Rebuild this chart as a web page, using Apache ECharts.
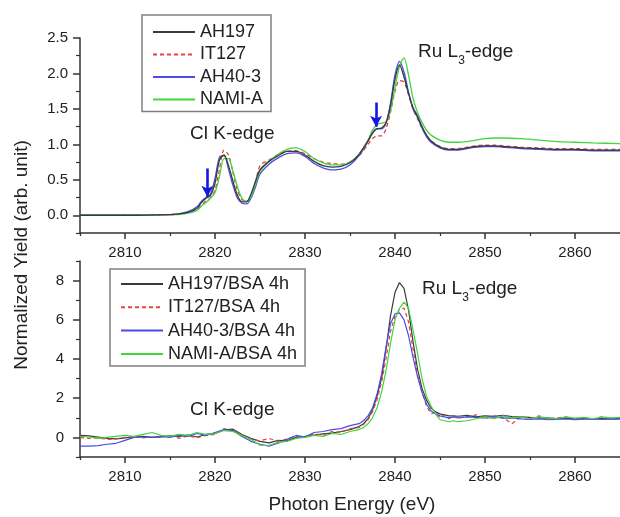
<!DOCTYPE html>
<html><head><meta charset="utf-8">
<script src="https://cdn.jsdelivr.net/npm/echarts@6/dist/echarts.min.js"></script>
<style>html,body{margin:0;padding:0;background:#fff}#c{width:620px;height:517px}</style>
</head><body><div id="c"></div>
<script>
// ---------- Top panel (pure complexes) ----------
const energyTop = [2805,2810,2815,2816,2817,2818,2818.5,2819,2819.5,2820,
  2820.5,2821,2821.5,2822,2822.5,2823,2823.5,2824,2824.5,2825,
  2826,2827,2828,2829,2830,2831,2832,2833,2834,2835,
  2836,2837,2837.5,2838,2838.5,2839,2839.5,2840,2840.5,2841,
  2841.5,2842,2842.5,2843,2843.5,2844,2845,2846,2847,2848,
  2849,2850,2851,2852,2854,2856,2858,2860,2862,2865];
const topAH197 = [0.00,0.00,0.01,0.02,0.04,0.10,0.18,0.24,0.28,0.45,
  0.78,0.85,0.70,0.48,0.28,0.19,0.19,0.30,0.48,0.64,
  0.76,0.84,0.90,0.90,0.85,0.76,0.70,0.68,0.69,0.74,
  0.86,1.05,1.16,1.22,1.23,1.30,1.55,1.92,2.12,1.95,
  1.72,1.52,1.40,1.25,1.13,1.05,0.96,0.93,0.93,0.95,
  0.97,0.98,0.98,0.97,0.95,0.94,0.93,0.93,0.92,0.92];
const topIT127 = [0.00,0.00,0.01,0.02,0.04,0.08,0.14,0.20,0.25,0.35,
  0.65,0.92,0.85,0.60,0.35,0.22,0.19,0.26,0.45,0.70,
  0.78,0.85,0.90,0.91,0.87,0.80,0.75,0.73,0.72,0.75,
  0.84,1.00,1.08,1.12,1.12,1.22,1.45,1.75,1.90,1.88,
  1.70,1.50,1.36,1.23,1.12,1.05,0.97,0.94,0.94,0.96,
  0.98,0.99,0.99,0.98,0.96,0.95,0.94,0.94,0.93,0.93];
const topAH40_3 = [0.00,0.00,0.01,0.02,0.05,0.12,0.20,0.25,0.30,0.52,
  0.82,0.84,0.65,0.42,0.24,0.17,0.16,0.24,0.40,0.58,
  0.72,0.81,0.87,0.88,0.83,0.73,0.67,0.64,0.65,0.71,
  0.84,1.04,1.16,1.22,1.22,1.30,1.58,1.98,2.17,2.02,
  1.74,1.50,1.38,1.23,1.11,1.03,0.95,0.92,0.92,0.94,
  0.96,0.97,0.97,0.96,0.94,0.93,0.92,0.92,0.91,0.91];
const topNAMIA = [0.00,0.00,0.01,0.01,0.03,0.07,0.13,0.18,0.24,0.32,
  0.55,0.80,0.80,0.62,0.40,0.24,0.20,0.26,0.44,0.62,
  0.76,0.86,0.93,0.95,0.90,0.80,0.74,0.71,0.71,0.75,
  0.86,1.06,1.20,1.28,1.30,1.32,1.48,1.80,2.10,2.22,
  1.98,1.65,1.45,1.31,1.20,1.13,1.06,1.03,1.03,1.04,
  1.06,1.08,1.09,1.09,1.08,1.06,1.04,1.03,1.02,1.01];

// ---------- Bottom panel (with BSA, 4h) ----------
const energyBottom = [2805,2806,2807,2808,2809,2810,2811,2812,2813,2814,
  2815,2816,2817,2818,2819,2820,2821,2822,2823,2824,
  2825,2826,2827,2828,2829,2830,2831,2832,2833,2834,2835,2836,
  2836.5,2837,2837.5,2838,2838.5,2839,2839.5,2840,2840.5,2841,
  2841.5,2842,2842.5,2843,2843.5,2844,2844.5,2845,2845.5,2846,2846.5,2847,
  2848,2849,2850,2851,2852,2853,2854,2855,2856,2857,
  2858,2859,2860,2861,2862,2863,2864,2865];
const botAH197 = [0.10,0.08,0.02,-0.05,-0.08,-0.02,0.02,0.05,0.00,0.03,
  0.08,0.05,0.12,0.02,0.15,0.20,0.38,0.42,0.15,-0.05,
  -0.20,-0.28,-0.15,-0.18,0.00,0.05,0.12,0.18,0.22,0.30,0.40,0.55,
  0.70,0.95,1.4,2.1,3.0,4.5,6.2,7.4,7.9,7.6,
  6.5,4.9,3.5,2.5,1.9,1.5,1.3,1.2,1.15,1.1,1.1,1.08,
  1.12,1.05,1.10,1.08,1.12,1.06,1.05,1.02,1.00,0.98,
  0.96,0.98,0.95,0.97,0.94,0.96,0.95,0.97];
const botIT127 = [0.00,-0.05,-0.02,-0.10,-0.08,0.00,0.05,-0.02,0.02,0.00,
  0.10,-0.05,0.08,-0.02,0.10,0.15,0.45,0.35,0.10,-0.10,
  -0.18,-0.05,-0.20,-0.08,0.05,0.00,0.20,0.10,0.30,0.25,0.45,0.50,
  0.65,0.90,1.30,1.9,2.8,4.0,5.4,6.2,6.5,6.6,
  5.9,4.5,3.2,2.3,1.6,1.2,1.3,1.0,1.15,0.95,1.1,1.0,
  1.05,1.15,0.95,1.10,1.00,0.70,1.05,0.95,1.10,0.95,
  1.00,1.05,0.90,1.00,0.95,1.05,0.92,1.00];
const botAH40_3 = [-0.45,-0.45,-0.42,-0.35,-0.30,-0.15,0.00,0.02,0.00,0.05,
  0.00,0.12,0.05,0.20,0.10,0.25,0.40,0.35,0.05,-0.20,
  -0.35,-0.45,-0.30,-0.10,0.10,0.02,0.25,0.30,0.40,0.45,0.60,0.70,
  0.85,1.10,1.50,2.2,3.2,4.6,5.8,6.3,6.35,6.0,
  5.2,4.1,3.1,2.3,1.7,1.35,1.2,1.1,1.05,1.0,1.05,1.0,
  1.05,1.02,1.00,1.05,0.98,1.00,0.95,0.92,0.95,0.90,
  0.92,0.95,0.90,0.93,0.95,0.92,0.95,0.93];
const botNAMIA = [0.05,0.02,-0.05,0.00,0.05,0.10,0.05,0.15,0.25,0.10,
  0.05,0.15,0.10,0.25,0.15,0.20,0.35,0.30,0.10,-0.10,
  -0.40,-0.40,-0.25,-0.20,-0.05,0.00,0.10,0.05,0.20,0.15,0.30,0.40,
  0.50,0.70,1.00,1.5,2.3,3.4,4.8,6.0,6.6,6.9,
  6.6,5.5,4.3,3.0,2.1,1.6,1.2,0.9,0.85,0.80,0.85,0.80,
  0.85,0.95,1.05,0.95,1.10,1.00,1.05,0.95,1.05,1.00,
  0.95,1.05,0.98,1.02,0.95,1.05,1.00,1.02];

// ---------- names, ticks ----------
const topNames = ['AH197','IT127','AH40-3','NAMI-A'];
const botNames = ['AH197/BSA 4h','IT127/BSA 4h','AH40-3/BSA 4h','NAMI-A/BSA 4h'];
const xMajorTicks = [2810,2820,2830,2840,2850,2860];
const xMinorTicks = [2805,2815,2825,2835,2845,2855,2865];
const yTopMajor = [0,0.5,1,1.5,2,2.5];
const yTopMinor = [-0.25,0.25,0.75,1.25,1.75,2.25];
const yBotMajor = [0,2,4,6,8];
const yBotMinor = [-1,1,3,5,7,9];
const arrowMarks = [[2819.15,0.66,0.26],[2837.9,1.59,1.25]];

const FONT = 'Liberation Sans, Arial, Helvetica, sans-serif';
const AX = '#333';
const colors = ['#3a3a3a','#e8413c','#4b4be8','#3fd63f'];

function pairs(xs, ys){ return xs.map((x,i)=>[x, ys[i]]); }

function xAxes(grid){
  return [
    {type:'value', gridIndex:grid, min:2805, max:2865, position:'bottom',
     axisLine:{show:true, onZero:false, lineStyle:{color:AX,width:1.5}},
     axisTick:{show:true, customValues:xMajorTicks, length:6, lineStyle:{color:AX,width:1.5}},
     axisLabel:{customValues:xMajorTicks, fontSize:15, color:'#222', fontFamily:FONT, margin:12,
       formatter:v=>String(v)},
     splitLine:{show:false}},
    {type:'value', gridIndex:grid, min:2805, max:2865, position:'bottom',
     axisLine:{show:false, onZero:false},
     axisTick:{show:true, customValues:xMinorTicks, length:3, lineStyle:{color:AX,width:1.2}},
     axisLabel:{show:false}, splitLine:{show:false}}
  ];
}
function yAxes(grid, min, max, major, minor, fmt, margin){
  return [
    {type:'value', gridIndex:grid, min:min, max:max, position:'left',
     axisLine:{show:true, onZero:false, lineStyle:{color:AX,width:1.5}},
     axisTick:{show:true, customValues:major, length:7, lineStyle:{color:AX,width:1.5}},
     axisLabel:{customValues:major, fontSize:15, color:'#222', fontFamily:FONT, margin:margin, formatter:fmt},
     splitLine:{show:false}},
    {type:'value', gridIndex:grid, min:min, max:max, position:'left',
     axisLine:{show:false, onZero:false},
     axisTick:{show:true, customValues:minor, length:4, lineStyle:{color:AX,width:1.2}},
     axisLabel:{show:false}, splitLine:{show:false}}
  ];
}

const topData = [topAH197, topIT127, topAH40_3, topNAMIA];
const botData = [botAH197, botIT127, botAH40_3, botNAMIA];

const series = [];
topNames.forEach((n,i)=>{
  const s = {name:n, type:'line', xAxisIndex:0, yAxisIndex:0, symbol:'none', smooth:0.3,
    data:pairs(energyTop, topData[i]), z: i===0?3:2,
    lineStyle:{color:colors[i], width:1.3, type: i===1?[4,3]:'solid'},
    itemStyle:{color:colors[i]}};
  if (i===2){
    s.markLine = {silent:true, symbol:['none','arrow'], symbolSize:[9,11], animation:false,
      lineStyle:{color:'#1616e0', width:2.6, type:'solid'}, label:{show:false},
      data: arrowMarks.map(a=>[{coord:[a[0],a[1]]},{coord:[a[0],a[2]]}])};
  }
  series.push(s);
});
botNames.forEach((n,i)=>{
  series.push({name:n, type:'line', xAxisIndex:2, yAxisIndex:2, symbol:'none',
    data:pairs(energyBottom, botData[i]),
    lineStyle:{color:colors[i], width:1.2, type: i===1?[4,3]:'solid'},
    itemStyle:{color:colors[i]}});
});

const legendBase = {orient:'vertical', itemWidth:42, itemHeight:14, selectedMode:false,
  borderColor:'#808080', borderWidth:1.5, borderRadius:0, backgroundColor:'#fff',
  textStyle:{fontSize:18, color:'#222', fontFamily:FONT}, itemStyle:{opacity:0}};

const annot = (txt, x, y) => ({type:'text', x:x, y:y, z:100,
  style:{text:txt, fontSize:19, fontFamily:FONT, fill:'#222', verticalAlign:'middle', lineHeight:30,
    rich:{s:{fontSize:12, fontFamily:FONT, fill:'#222', verticalAlign:'bottom', lineHeight:12}}}});

const option = {
  animation:false,
  backgroundColor:'#fff',
  grid:[
    {left:80, top:38, width:545, height:195},
    {left:80, top:261, width:545, height:196}
  ],
  xAxis:[...xAxes(0), ...xAxes(1)],
  yAxis:[
    ...yAxes(0, -0.25, 2.5, yTopMajor, yTopMinor, v=>v.toFixed(1), 12),
    ...yAxes(1, -1, 9, yBotMajor, yBotMinor, v=>String(v), 16)
  ],
  legend:[
    Object.assign({}, legendBase, {data:topNames, left:142, top:15, itemGap:4.5, padding:[8,8,3,10]}),
    Object.assign({}, legendBase, {data:botNames, left:110, top:269, itemGap:5.3, padding:[6,8,3,10]})
  ],
  series:series,
  graphic:[
    annot('Cl K-edge', 190, 134),
    annot('Ru L{s|3}-edge', 418, 52),
    annot('Cl K-edge', 190, 410),
    annot('Ru L{s|3}-edge', 422, 289),
    {type:'text', x:352, y:505, z:100, style:{text:'Photon Energy (eV)', fontSize:19, fontFamily:FONT,
      fill:'#222', align:'center', verticalAlign:'middle'}},
    {type:'text', x:22, y:255, rotation:Math.PI/2, z:100, style:{text:'Normalized Yield (arb. unit)',
      fontSize:19, fontFamily:FONT, fill:'#222', align:'center', verticalAlign:'middle'}}
  ]
};
const chart = echarts.init(document.getElementById('c'), null, {renderer:'canvas'});
chart.setOption(option);
</script></body></html>
